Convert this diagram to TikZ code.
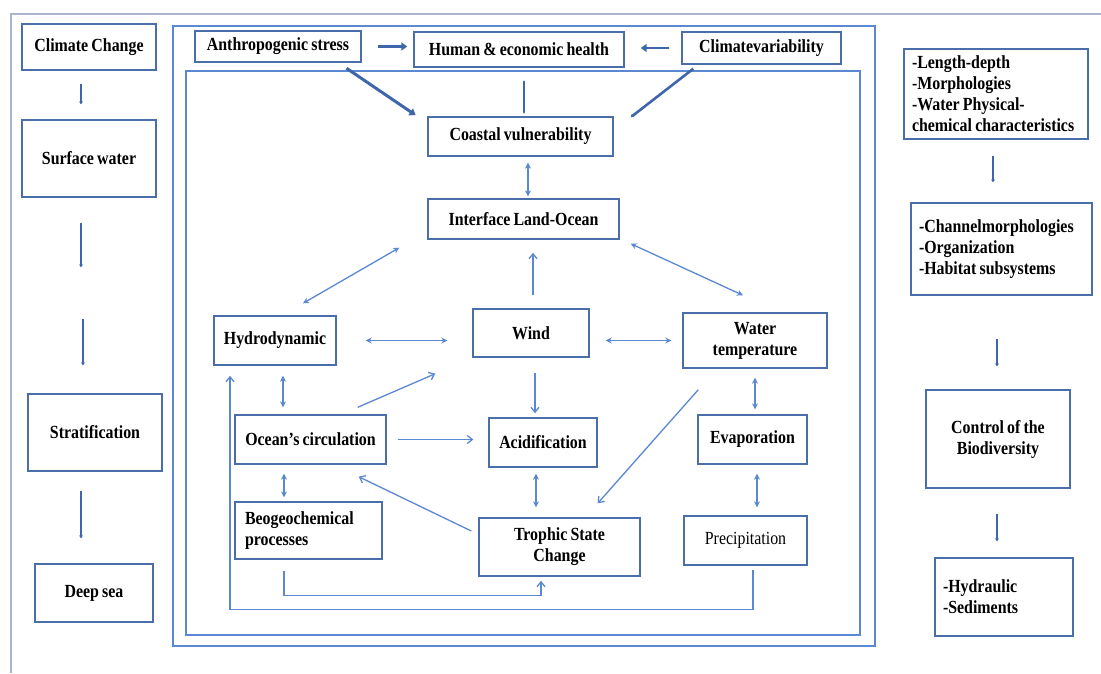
\documentclass[tikz,border=0pt]{standalone}
\usepackage{fontspec}
\setmainfont{Liberation Serif}[FakeStretch=0.86, WordSpace=0.8]
\usepackage{xcolor}
\usepackage{tikz}
\usetikzlibrary{arrows.meta,positioning}
\definecolor{boxblue}{HTML}{4A6EAA}
\definecolor{linkblue}{HTML}{5B88D2}
\definecolor{framegray}{HTML}{A8B4D0}
\definecolor{thickblue}{HTML}{3F66AA}

\begin{document}
\begin{tikzpicture}[
    x=1pt, y=-1pt,
    box/.style={rectangle, draw=boxblue, line width=1.4pt, fill=white,
                align=center, font=\fontsize{18.5}{21}\selectfont\bfseries, inner sep=3pt},
    lbox/.style={box, align=flush left, inner xsep=8pt},
    frame/.style={draw=linkblue, line width=1.5pt},
    link/.style={draw=linkblue, line width=1.3pt, -{Straight Barb[length=5pt,width=8pt]}},
    dbl/.style={draw=linkblue, line width=1.3pt, {Stealth[length=6pt,width=6pt]}-{Stealth[length=6pt,width=6pt]}},
    thk/.style={draw=thickblue, line width=3pt, -{Triangle[length=6pt,width=8pt]}},
    thkline/.style={draw=thickblue, line width=2.6pt, line cap=round},
    col/.style={draw=thickblue, line width=2.4pt, -{Stealth[length=3pt,width=4pt]}},
]
\useasboundingbox (0,0) rectangle (1101,673);
\draw[framegray, line width=1.5pt] (11,673) -- (11,14) -- (1101,14);
\draw[frame] (173,26) rectangle (875,646);
\draw[frame] (186,71) rectangle (860,635);

% left column
\node[box, minimum width=134pt, minimum height=46pt] (cc) at (89,47) {Climate Change};
\node[box, minimum width=134pt, minimum height=77pt] (surf) at (89,158.5) {Surface water};
\node[box, minimum width=134pt, minimum height=77pt] (strat) at (95,432.5) {Stratification};
\node[box, minimum width=118pt, minimum height=58pt] (deep) at (94,593) {Deep sea};

% top row
\node[box, minimum width=166pt, minimum height=31pt] (anth) at (278,46.5) {Anthropogenic stress};
\node[box, minimum width=210pt, minimum height=35pt] (human) at (519,49.5) {Human \& economic health};
\node[box, minimum width=159pt, minimum height=32pt] (cvar) at (761.5,48) {Climatevariability};

% inner system
\node[box, minimum width=185pt, minimum height=39pt] (coast) at (520.5,136.5) {Coastal vulnerability};
\node[box, minimum width=191pt, minimum height=40pt] (iface) at (523.5,219) {Interface Land-Ocean};
\node[box, minimum width=122pt, minimum height=49pt] (hydro) at (275,340.5) {Hydrodynamic};
\node[box, minimum width=116pt, minimum height=48pt] (wind) at (531,333) {Wind};
\node[box, minimum width=144pt, minimum height=55pt] (wtemp) at (755,340.5) {Water\\temperature};
\node[box, minimum width=151pt, minimum height=49pt] (ocean) at (310.5,439.5) {Ocean’s circulation};
\node[box, minimum width=108pt, minimum height=49pt] (acid) at (543,442.5) {Acidification};
\node[box, minimum width=109pt, minimum height=49pt] (evap) at (752.5,439.5) {Evaporation};
\node[lbox, inner xsep=10pt, text width=127pt, minimum height=57pt] (beo) at (308.5,530.5) {Beogeochemical\\processes};
\node[box, minimum width=161pt, minimum height=58pt] (troph) at (559.5,547) {Trophic State\\Change};
\node[box, font=\fontsize{18.5}{21}\selectfont, minimum width=123pt, minimum height=49pt] (precip) at (745.5,540.5) {Precipitation};

% right column
\node[lbox, text width=168pt, minimum height=90pt] (morph) at (996,94) {-Length-depth\\-Morphologies\\-Water Physical-\\chemical characteristics};
\node[lbox, text width=165pt, minimum height=92pt] (chan) at (1001.5,249) {-Channelmorphologies\\-Organization\\-Habitat subsystems};
\node[box, minimum width=144pt, minimum height=98pt] (ctrl) at (998,439) {Control of the\\Biodiversity};
\node[lbox, text width=122pt, minimum height=78pt] (hydr) at (1004,597) {-Hydraulic\\-Sediments};

% left column arrows
\draw[col, shorten <=13pt, shorten >=15pt] ([xshift=-8pt]cc.south) -- ([xshift=-8pt]cc.south |- surf.north);
\draw[col, shorten <=25pt, shorten >=126pt] ([xshift=-8pt]surf.south) -- ([xshift=-8pt]surf.south |- strat.north);
\draw[col, shorten <=121pt, shorten >=28pt] ([xshift=-6pt]surf.south) -- ([xshift=-6pt]surf.south |- strat.north);
\draw[col, shorten <=19pt, shorten >=25pt] ([xshift=-14pt]strat.south) -- ([xshift=-14pt]strat.south |- deep.north);

% right column arrows
\draw[col, shorten <=16pt, shorten >=20pt] ([xshift=-3pt]morph.south) -- ([xshift=-3pt]morph.south |- chan.north);
\draw[col, shorten <=43pt, shorten >=23pt] ([xshift=-4.5pt]chan.south) -- ([xshift=-4.5pt]chan.south |- ctrl.north);
\draw[col, shorten <=25pt, shorten >=16pt] ([xshift=-1pt]ctrl.south) -- ([xshift=-1pt]ctrl.south |- hydr.north);

% top arrows
\draw[thk, shorten <=16pt, shorten >=6pt] (anth.east) -- (anth.east -| human.west);
\draw[thk, line width=2.4pt, shorten <=12pt, shorten >=16pt] (cvar.west) -- (cvar.west -| human.east);
\draw[thk, shorten <=1pt, shorten >=2pt] ([xshift=-16pt,yshift=-5pt]anth.south east) -- ([xshift=-10pt]coast.north west);
\draw[thkline, shorten <=4pt, shorten >=14pt] ([xshift=3.5pt]coast.north) -- ([xshift=3.5pt]coast.north |- human.south);
\draw[col, line width=2.6pt] ([xshift=12pt,yshift=-4pt]cvar.south west) -- ([xshift=17pt,yshift=-1pt]coast.north east);

% inner links
\draw[dbl, shorten <=6pt, shorten >=2pt] ([xshift=7.5pt]coast.south) -- ([xshift=7.5pt]coast.south |- iface.north);
\draw[dbl] ([xshift=-28pt,yshift=-8pt]iface.south west) -- ([xshift=28pt,yshift=12pt]hydro.north);
\draw[dbl] ([xshift=11pt,yshift=-4pt]iface.south east) -- ([xshift=-12pt,yshift=17pt]wtemp.north);
\draw[link, shorten <=13pt, shorten >=13pt] ([xshift=2pt]wind.north) -- ([xshift=2pt]wind.north |- iface.south);
\draw[dbl, shorten <=29pt, shorten >=25pt] (hydro.east) -- (hydro.east -| wind.west);
\draw[dbl, shorten <=11pt, shorten >=16pt] (wtemp.west) -- (wtemp.west -| wind.east);
\draw[dbl, shorten <=10pt, shorten >=7pt] ([xshift=8pt]hydro.south) -- ([xshift=8pt]hydro.south |- ocean.north);
\draw[link] ([xshift=-29pt,yshift=7pt]ocean.north east) -- ([xshift=-37pt,yshift=-16pt]wind.south west);
\draw[link, shorten <=11pt, shorten >=15pt] (ocean.east) -- (ocean.east -| acid.west);
\draw[link, shorten <=15pt, shorten >=4pt] ([xshift=4pt]wind.south) -- ([xshift=4pt]wind.south |- acid.north);
\draw[dbl, shorten <=9pt, shorten >=5pt] (wtemp.south) -- (wtemp.south |- evap.north);
\draw[link] ([xshift=16pt,yshift=-21pt]wtemp.south west) -- ([xshift=-43pt,yshift=14pt]troph.north east);
\draw[dbl, shorten <=9pt, shorten >=4pt] ([xshift=-26.5pt]ocean.south) -- ([xshift=-26.5pt]ocean.south |- beo.north);
\draw[link] ([xshift=-7pt,yshift=16pt]troph.west) -- ([xshift=-28pt,yshift=-12pt]ocean.south east);
\draw[dbl, shorten <=6pt, shorten >=10pt] ([xshift=-7pt]acid.south) -- ([xshift=-7pt]acid.south |- troph.north);
\draw[dbl, shorten <=9pt, shorten >=8pt] ([xshift=4.5pt]evap.south) -- ([xshift=4.5pt]evap.south |- precip.north);
\draw[link, shorten <=11pt, shorten >=4pt] ([xshift=-24.5pt]beo.south) -- ++(0,36) -| ([xshift=-18.5pt]troph.south);
\draw[link, shorten <=4pt, shorten >=10pt] ([xshift=7.5pt]precip.south) -- ++(0,44) -| ([xshift=-45pt]hydro.south);
\end{tikzpicture}
\end{document}
